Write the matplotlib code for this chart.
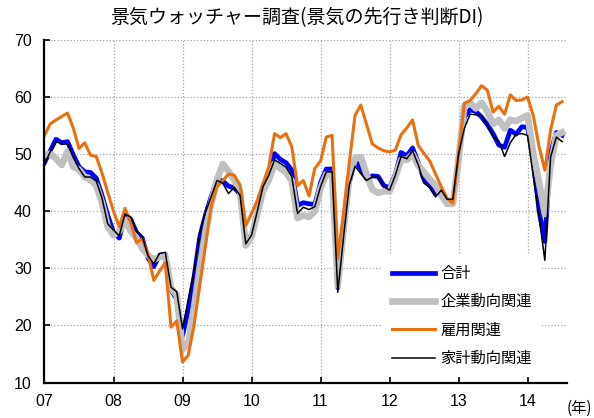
import numpy as np
import matplotlib
matplotlib.use("Agg")
import matplotlib.pyplot as plt

plt.rcParams['font.family'] = ['Noto Sans CJK JP', 'DejaVu Sans']

# monthly values, first point at the left edge of the axis
total = [48.5, 50.6, 52.6, 52.0, 52.2, 49.9, 47.8, 46.9, 46.8, 45.8,
         42.8, 39.3, 36.3, 35.3, 39.3, 38.6, 36.3, 35.3, 31.8, 30.3,
         32.3, 32.5, 26.2, 24.6, 18.2, 22.8, 28.5, 35.5, 39.4, 42.6,
         45.6, 45.3, 44.4, 44.1, 43.0, 34.8, 35.8, 40.0, 44.3, 46.6,
         50.1, 49.1, 48.5, 47.2, 41.0, 41.5, 41.3, 41.2, 45.0, 47.4,
         47.4, 26.6, 36.0, 45.1, 48.9, 47.5, 45.7, 46.2, 46.1, 44.5,
         44.1, 46.5, 50.3, 49.7, 51.1, 48.5, 45.5, 44.5, 43.0, 43.5,
         41.8, 41.5, 49.8, 56.5, 57.8, 57.5, 56.5, 55.2, 53.6, 51.6,
         51.2, 54.2, 53.5, 54.8, 54.7, 49.0, 40.0, 34.7, 50.3, 53.8,
         53.3]

corporate = [49.8, 50.1, 49.2, 48.1, 50.5, 47.8, 47.3, 46.0, 45.5, 44.5,
             41.5, 37.3, 35.8, 36.5, 38.5, 36.5, 35.3, 33.5, 32.3, 31.5,
             32.0, 32.2, 26.5, 25.3, 15.8, 16.8, 23.2, 30.2, 36.5, 41.5,
             45.5, 48.3, 47.0, 45.5, 43.5, 34.0, 35.5, 39.5, 43.5, 45.5,
             48.3, 47.5, 46.8, 45.3, 38.8, 39.3, 39.0, 40.0, 44.0, 46.5,
             46.5, 27.0, 37.0, 46.0, 49.3, 49.5, 46.5, 43.8, 43.2, 43.5,
             43.5, 46.0, 49.0, 49.0, 50.0, 48.0, 46.8, 45.6, 44.5, 42.8,
             41.3, 41.3, 49.0, 58.5, 59.0, 58.0, 59.0, 57.5, 55.3, 56.0,
             54.5, 56.0, 55.8, 56.3, 56.8, 50.0, 45.0, 39.5, 48.0, 53.3,
             53.8]

employment = [53.3, 55.3, 56.0, 56.6, 57.2, 54.6, 51.0, 52.0, 49.8, 49.6,
              46.7, 43.3, 40.0, 37.3, 40.5, 38.0, 34.5, 35.2, 32.5, 27.9,
              29.5, 31.0, 19.7, 20.8, 13.6, 14.8, 20.0, 27.0, 34.0, 41.0,
              44.3, 45.4, 46.5, 46.3, 44.6, 37.5, 39.6, 41.9, 44.9, 47.8,
              53.6, 52.9, 53.6, 51.3, 44.5, 45.4, 42.7, 47.5, 48.8, 53.0,
              53.3, 31.7, 39.6, 48.5, 56.8, 58.6, 55.2, 51.8, 51.1, 50.6,
              50.4, 50.7, 53.4, 54.6, 56.0, 51.5, 50.1, 48.8, 46.5, 44.3,
              42.3, 41.4, 50.0, 58.9, 59.4, 60.6, 62.0, 61.2, 57.4, 58.4,
              57.0, 60.4, 59.4, 59.5, 60.0, 56.7, 51.3, 47.2, 54.2, 58.6,
              59.2]

household = [48.3, 50.4, 52.3, 51.8, 51.8, 49.4, 47.5, 46.0, 46.0, 45.3,
             42.3, 37.8, 36.7, 35.7, 39.5, 39.0, 36.5, 35.6, 32.2, 30.8,
             32.6, 32.8, 26.7, 25.9, 19.4, 24.5, 29.5, 36.3, 39.8, 42.6,
             45.4, 44.9, 43.1, 44.2, 42.8, 34.3, 35.8, 40.0, 44.3, 46.3,
             49.0, 48.4, 47.7, 46.1, 39.6, 40.7, 40.3, 40.8, 44.3, 46.9,
             46.9, 25.8, 35.5, 44.6, 47.9, 46.6, 45.4, 46.0, 46.0, 44.3,
             43.7, 46.3, 49.6, 49.2, 50.6, 48.1, 44.9, 44.2, 42.5, 43.7,
             42.1, 42.1, 50.0, 54.5, 57.0, 56.9, 56.8, 55.0, 53.0, 52.3,
             49.6, 52.0, 53.5, 53.6, 53.3, 46.0, 39.0, 31.4, 49.5, 53.0,
             52.2]

year_labels = ['07', '08', '09', '10', '11', '12', '13', '14']
series_names = ['合計', '企業動向関連', '雇用関連', '家計動向関連']

x = np.arange(len(total))

fig = plt.figure(figsize=(5.94, 4.18), dpi=100)
ax = fig.add_axes([0.0749, 0.0849, 0.8801, 0.8194])

ax.plot(x, total, color='#0000ff', lw=3.4, label=series_names[0], zorder=3)
ax.plot(x, corporate, color='#c0c0c0', lw=4.8, label=series_names[1], zorder=4)
ax.plot(x, employment, color='#e8700e', lw=2.2, label=series_names[2], zorder=5)
ax.plot(x, household, color='black', lw=1.1, label=series_names[3], zorder=6)

ax.set_xlim(0, 90.9)
ax.set_ylim(10, 70)
ax.set_yticks(range(10, 71, 10))
ax.set_xticks(range(0, 85, 12))
ax.set_xticklabels(year_labels)

for lab in ax.get_xticklabels() + ax.get_yticklabels():
    lab.set_family(['Liberation Sans', 'DejaVu Sans'])
    lab.set_fontsize(11.5)

ax.tick_params(direction='in', length=4, width=1.2, color='black')
ax.tick_params(axis='x', pad=8)
ax.tick_params(axis='y', pad=9)

ax.grid(True, color='#a6a6a6', lw=0.9, linestyle=(0, (1, 1.6)), zorder=0)
ax.set_axisbelow(True)

for side in ['top', 'right']:
    ax.spines[side].set_visible(False)
for side in ['left', 'bottom']:
    ax.spines[side].set_linewidth(1.6)
    ax.spines[side].set_zorder(7)

leg = ax.legend(loc='upper left', bbox_to_anchor=(0.6456, 0.372),
                borderaxespad=0, borderpad=0.65, frameon=True,
                facecolor='white', edgecolor='none', framealpha=1,
                fancybox=False, fontsize=11, handlelength=2.8,
                handletextpad=0.35, labelspacing=0.74)
leg.set_zorder(8)

fig.text(0.5, 0.957, '景気ウォッチャー調査(景気の先行き判断DI)',
         ha='center', va='center', fontsize=13.7)
fig.text(0.997, 0.024, '(年)', ha='right', va='center', fontsize=11)

fig.savefig('out.png', dpi=100)
